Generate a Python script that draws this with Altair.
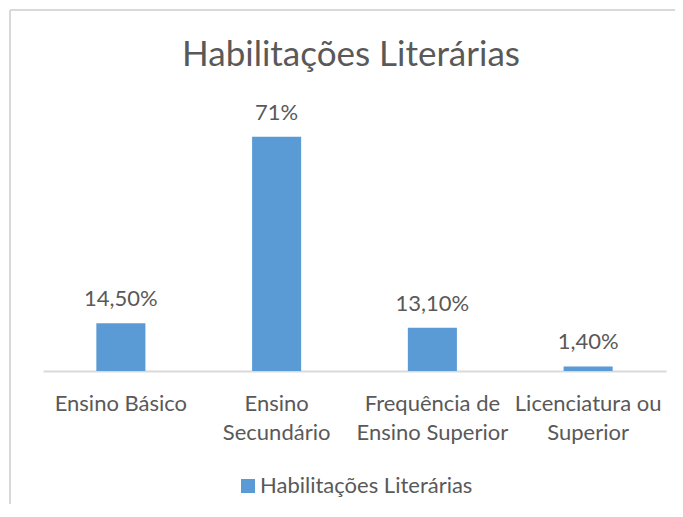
import altair as alt
import pandas as pd

categories = ["Ensino Básico", "Ensino Secundário", "Frequência de Ensino Superior", "Licenciatura ou Superior"]
wrapped = [["Ensino Básico"], ["Ensino", "Secundário"], ["Frequência de", "Ensino Superior"], ["Licenciatura ou", "Superior"]]
values = [14.5, 71.0, 13.1, 1.4]
value_labels = ["14,50%", "71%", "13,10%", "1,40%"]
series = "Habilitações Literárias"
title = "Habilitações Literárias"

FONT = "Lato"
TXT = "#595959"
BLUE = "#5B9BD5"
GRID = "#D9D9D9"

df = pd.DataFrame({"cat": categories, "val": values, "lab": value_labels, "serie": [series] * len(categories)})

# label expression for wrapped axis labels
expr = "datum.value"
for c, w in reversed(list(zip(categories, wrapped))):
    arr = "[" + ",".join("'" + s + "'" for s in w) + "]"
    expr = f"datum.value == '{c}' ? {arr} : ({expr})"

x = alt.X("cat:N", sort=categories, title=None,
          scale=alt.Scale(paddingInner=0.685, paddingOuter=0.3425),
          axis=alt.Axis(labelAngle=0, ticks=False, labelPadding=22, labelFontSize=22,
                        labelFont=FONT, labelColor=TXT, labelLineHeight=29, labelLimit=300,
                        labelOverlap=False, domainColor=GRID, domainWidth=2, labelExpr=expr))
y = alt.Y("val:Q", scale=alt.Scale(domain=[0, 80]), axis=None)

bars = alt.Chart(df).mark_bar(color=BLUE).encode(
    x=x, y=y,
    color=alt.Color("serie:N", scale=alt.Scale(range=[BLUE]),
                    legend=alt.Legend(title=None, orient="none", legendX=194, legendY=368,
                                      symbolType="square", symbolSize=196, symbolStrokeWidth=0,
                                      labelFont=FONT, labelFontSize=22, labelColor=TXT,
                                      labelOffset=1, padding=0, labelLimit=400)),
)

labels = alt.Chart(df).mark_text(font=FONT, fontSize=22, color=TXT, baseline="alphabetic", dy=-17).encode(
    x=alt.X("cat:N", sort=categories), y=y, text="lab:N"
)

one = pd.DataFrame({"f": [0]})
top_line = alt.Chart(one).mark_rule(color=GRID, strokeWidth=2).encode(
    x=alt.value(-33), x2=alt.value(700), y=alt.value(-97)
)
left_line = alt.Chart(one).mark_rule(color=GRID, strokeWidth=2).encode(
    x=alt.value(-33), y=alt.value(-97), y2=alt.value(600)
)
title_text = alt.Chart(one).mark_text(font=FONT, fontSize=35, color=TXT, align="center",
                                      baseline="alphabetic").encode(
    x=alt.value(308), y=alt.value(-41), text=alt.value(title)
)

chart = alt.layer(top_line, left_line, title_text, bars, labels).properties(
    width=623, height=264,
    background="white",
    autosize=alt.AutoSizeParams(type="none"),
    padding={"left": 35, "top": 99, "right": 9, "bottom": 133},
).configure_view(strokeWidth=0)

chart.save("out.html", embed_options={"renderer": "svg", "actions": False})
